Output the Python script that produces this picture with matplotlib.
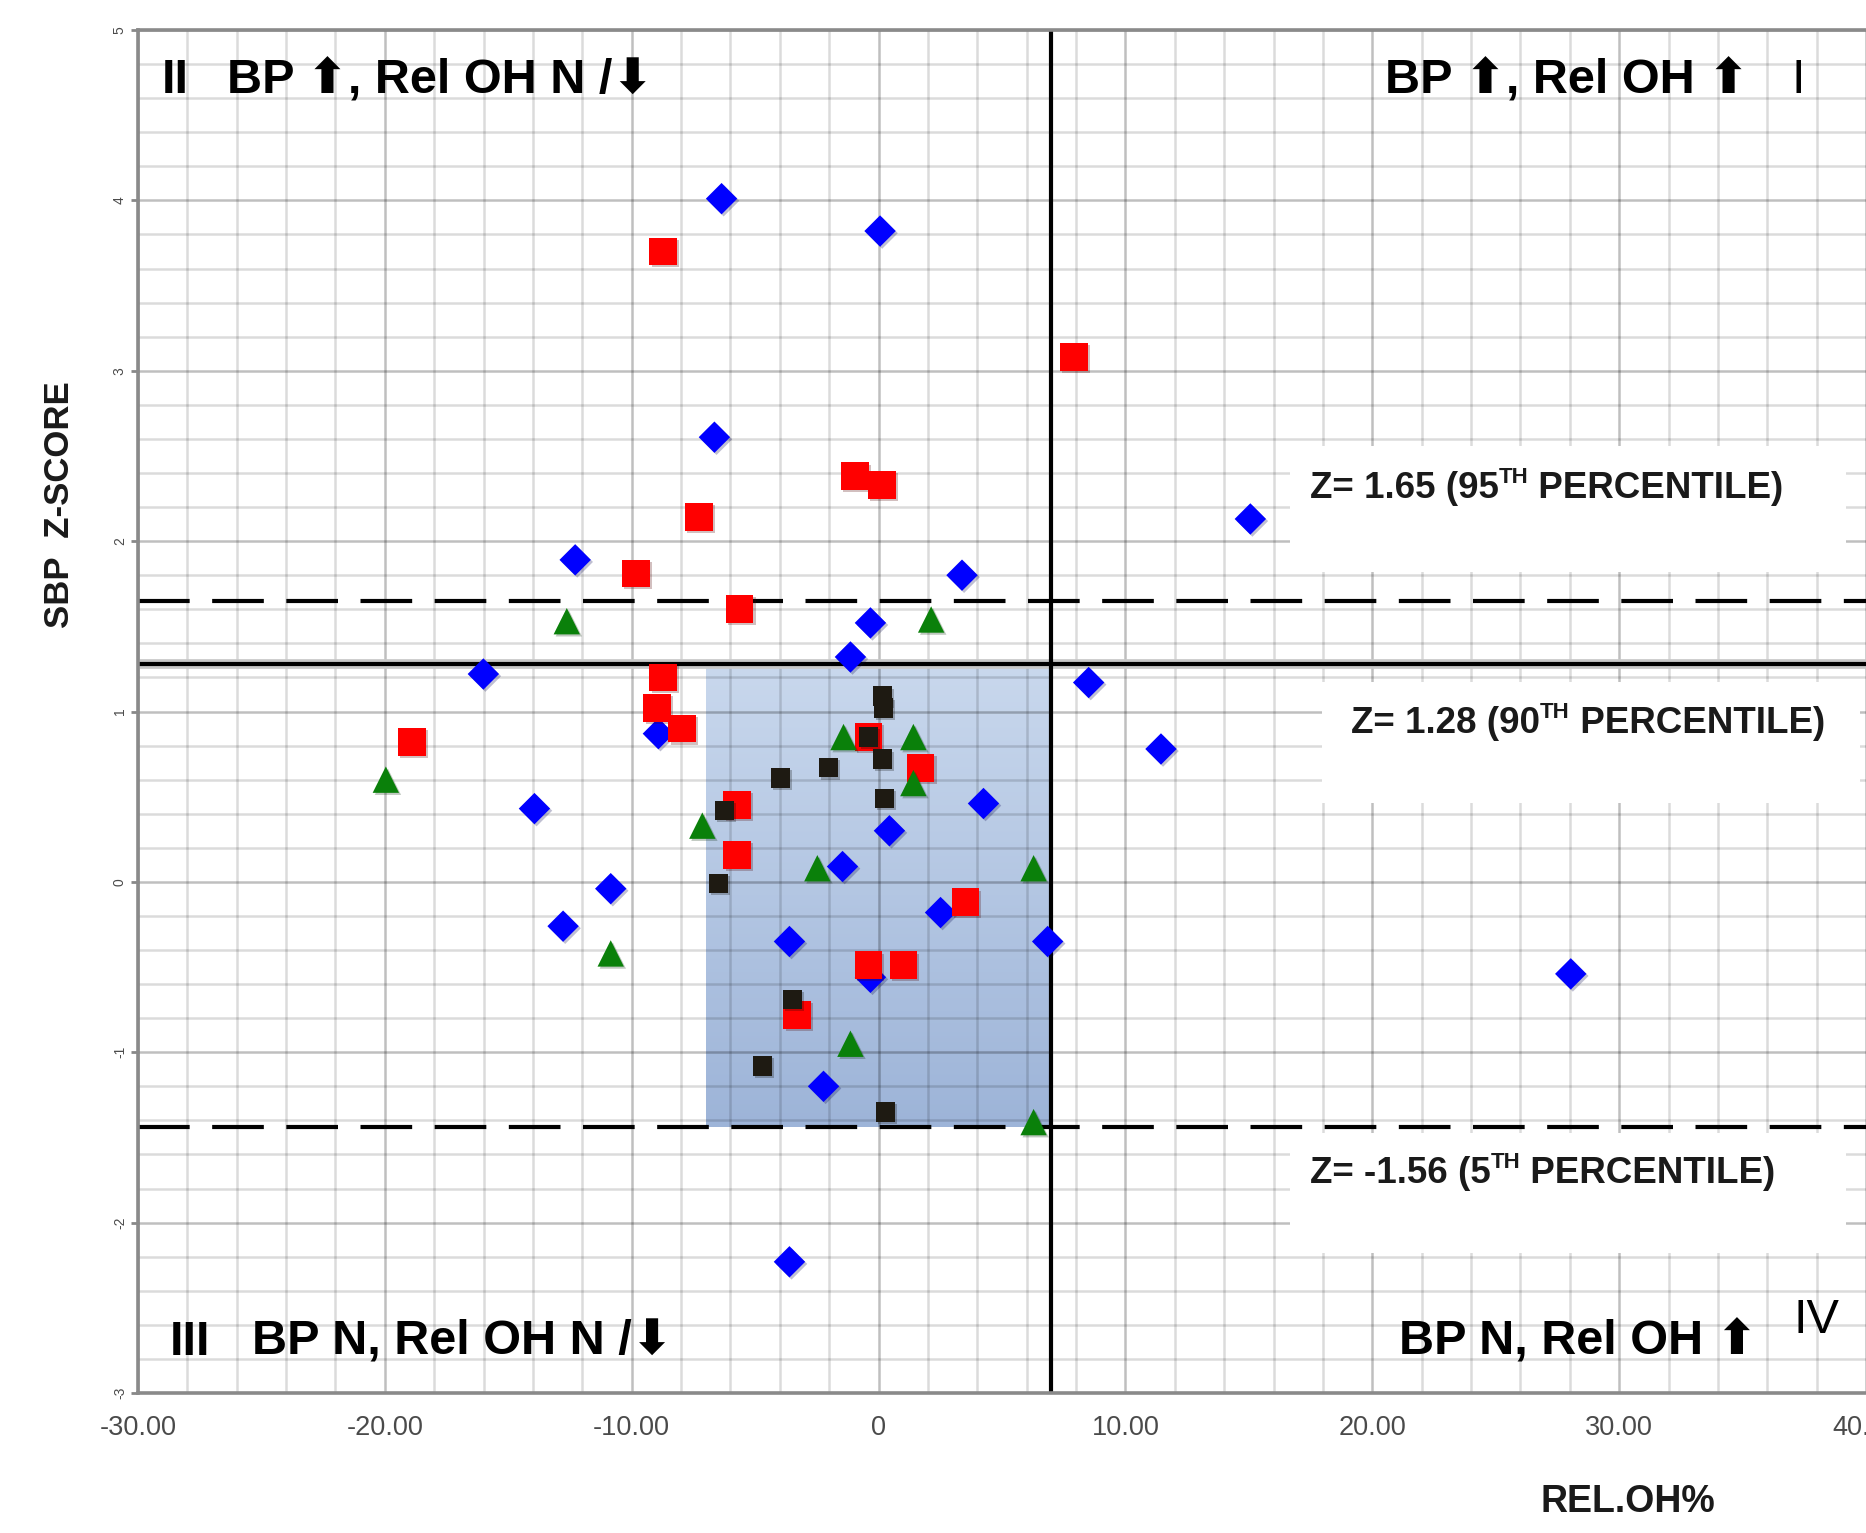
import numpy as np
import matplotlib
matplotlib.use("Agg")
import matplotlib.pyplot as plt
from matplotlib.patches import Rectangle
from matplotlib.colors import LinearSegmentedColormap
from matplotlib.transforms import offset_copy
import matplotlib.patheffects as pe

# ---------------- data ----------------
blue_x = [-6.36, 0.06, -6.65, 15.06, -12.29, 3.38, -0.33, -1.14, -16.01, 8.51, -8.92, 11.44,
          -13.94, 4.25, 0.44, -1.46, -10.85, -12.78, 2.51, -3.61, 6.85, -0.33, 28.04, -2.23, -3.61]
blue_y = [4.01, 3.82, 2.61, 2.13, 1.89, 1.80, 1.52, 1.32, 1.22, 1.17, 0.87, 0.78,
          0.43, 0.46, 0.30, 0.09, -0.04, -0.26, -0.18, -0.35, -0.35, -0.56, -0.54, -1.20, -2.23]

red_x = [-8.72, 7.92, -0.96, 0.15, -7.28, -9.83, -5.63, -8.72, -8.96, -7.95, -18.90, -0.41,
         1.70, -5.72, -5.72, 3.52, -0.41, 1.01, -3.29]
red_y = [3.70, 3.08, 2.38, 2.33, 2.14, 1.81, 1.60, 1.20, 1.02, 0.90, 0.82, 0.85,
         0.67, 0.45, 0.16, -0.12, -0.49, -0.49, -0.78]

green_x = [-12.63, 2.13, -1.42, 1.41, -19.96, 1.41, -7.14, -2.48, 6.28, -10.85, -1.14, 6.28]
green_y = [1.53, 1.54, 0.85, 0.85, 0.60, 0.58, 0.33, 0.08, 0.08, -0.42, -0.95, -1.41]

black_x = [0.16, 0.20, -0.41, 0.16, -2.03, -3.98, 0.24, -6.25, -6.49, -3.49, -4.71, 0.28]
black_y = [1.09, 1.02, 0.85, 0.72, 0.67, 0.61, 0.49, 0.42, -0.01, -0.69, -1.08, -1.35]

x_ticks = [-30, -20, -10, 0, 10, 20, 30, 40]
x_tick_labels = ["-30.00", "-20.00", "-10.00", "0", "10.00", "20.00", "30.00", "40.00"]
y_ticks = [-3, -2, -1, 0, 1, 2, 3, 4, 5]
y_tick_labels = ["-3", "-2", "-1", "0", "1", "2", "3", "4", "5"]

z_upper_dash = 1.65
z_solid = 1.28
z_lower_dash = -1.44
rel_oh_split = 7.0
shade_x = [-7.0, 6.9]

# ---------------- style ----------------
FAM = ["Liberation Sans", "DejaVu Sans"]
plt.rcParams["font.family"] = FAM

W, H = 1866, 1533
fig = plt.figure(figsize=(W / 100, H / 100), dpi=100)
ax = fig.add_axes([138 / W, (H - 1393) / H, (W - 138) / W, (1393 - 30) / H])

# gradient shading
grad = np.linspace(0, 1, 256)[:, None]
cmap = LinearSegmentedColormap.from_list("shade", ["#c9d8ed", "#9db4d8"])
ax.imshow(grad, extent=[shade_x[0], shade_x[1], z_lower_dash, z_solid], origin="upper",
          cmap=cmap, aspect="auto", zorder=0.2, interpolation="bilinear")

ax.set_xlim(-30, 40)
ax.set_ylim(-3, 5)

ax.set_xticks(x_ticks)
ax.set_xticklabels(x_tick_labels)
ax.set_xticks(np.arange(-30, 40.01, 2), minor=True)
ax.set_yticks(y_ticks)
ax.set_yticklabels(y_tick_labels, rotation=90, va="center")
ax.set_yticks(np.arange(-3, 5.001, 0.2), minor=True)

ax.set_axisbelow(True)
ax.grid(which="minor", color="black", alpha=0.14, lw=1.8)
ax.grid(which="major", color="black", alpha=0.25, lw=1.8)

ax.tick_params(which="major", axis="x", length=0, pad=16, labelsize=19.5, labelcolor="#4a4a4a")
ax.tick_params(which="major", axis="y", length=5, width=2, color="#888888", pad=3,
               labelsize=10, labelcolor="#4a4a4a")
ax.tick_params(which="minor", length=0)

for s in ["left", "bottom", "top"]:
    ax.spines[s].set_color("#8a8a8a")
    ax.spines[s].set_linewidth(2.6)
ax.spines["right"].set_visible(False)

# white annotation boxes
for (x0, x1, y0, y1) in [(16.66, 39.2, 1.82, 2.56), (17.98, 39.76, 0.464, 1.174),
                         (16.66, 39.2, -2.177, -1.473)]:
    ax.add_patch(Rectangle((x0, y0), x1 - x0, y1 - y0, facecolor="white",
                           edgecolor="none", zorder=0.8))

# reference lines
ax.axhline(z_solid, color="#c8c8c8", lw=7, zorder=1.5)
ax.axhline(z_solid, color="black", lw=3, zorder=2)
ax.axvline(rel_oh_split, color="black", lw=3, zorder=2)
ax.axhline(z_upper_dash, color="black", lw=3, ls=(0, (12.4, 5.4)), zorder=2)
ax.axhline(z_lower_dash, color="black", lw=3, ls=(0, (12.4, 5.4)), zorder=2)

shadow = [pe.SimplePatchShadow(offset=(1.5, -1.5), alpha=0.25), pe.Normal()]
ax.scatter(blue_x, blue_y, marker="D", s=16 ** 2, color="#0000ff", linewidths=0, zorder=3,
           path_effects=shadow)
ax.scatter(red_x, red_y, marker="s", s=20 ** 2, color="#ff0000", linewidths=0, zorder=4,
           path_effects=shadow)
ax.scatter(green_x, green_y, marker="^", s=19 ** 2, color="#0a800a", linewidths=0, zorder=5,
           path_effects=shadow)
ax.scatter(black_x, black_y, marker="s", s=14 ** 2, color="#1e1a12", linewidths=0, zorder=6,
           path_effects=shadow)

# quadrant labels
qkw = dict(fontsize=35, fontweight="bold", va="baseline", ha="left", color="black",
           family=FAM, zorder=7)
ax.text(-29.03, 4.63, "II", **qkw)
ax.text(-26.39, 4.63, "BP \u2B06, Rel OH N /\u2B07", **qkw)
ax.text(20.51, 4.63, "BP \u2B06, Rel OH \u2B06", **qkw)
ax.text(37.0, 4.63, "I", **{**qkw, "fontweight": "normal"})
ax.text(-28.70, -2.776, "III", **qkw)
ax.text(-25.38, -2.776, "BP N, Rel OH N /\u2B07", **qkw)
ax.text(21.07, -2.776, "BP N, Rel OH \u2B06", **qkw)
ax.text(37.05, -2.647, "IV", **{**qkw, "fontweight": "normal"})

# Z annotations with superscripts
renderer = fig.canvas.get_renderer()


def rich_text(x, y, pieces):
    dx = 0.0
    for s, size, rise in pieces:
        tr = offset_copy(ax.transData, fig=fig, x=dx, y=rise, units="points")
        t = ax.text(x, y, s, transform=tr, fontsize=size, fontweight="bold", va="baseline",
                    ha="left", color="#1a1a1a", family=FAM, zorder=7)
        dx += t.get_window_extent(renderer=renderer).width * 72 / fig.dpi


rich_text(17.47, 2.253, [("Z= 1.65 (95", 26.5, 0), ("TH", 16, 11), (" PERCENTILE)", 26.5, 0)])
rich_text(19.13, 0.874, [("Z= 1.28 (90", 26.5, 0), ("TH", 16, 11), (" PERCENTILE)", 26.5, 0)])
rich_text(17.47, -1.77, [("Z= -1.56 (5", 26.5, 0), ("TH", 16, 11), (" PERCENTILE)", 26.5, 0)])

# axis labels
fig.text(60 / W, 1 - 505 / H, "SBP  Z-SCORE", rotation=90, ha="center", va="center",
         fontsize=25, fontweight="bold", color="#1a1a1a", family=FAM)
fig.text(1628 / W, 1 - 1502 / H, "REL.OH%", ha="center", va="center",
         fontsize=27, fontweight="bold", color="#1a1a1a", family=FAM)

fig.savefig("out.png", dpi=100)
